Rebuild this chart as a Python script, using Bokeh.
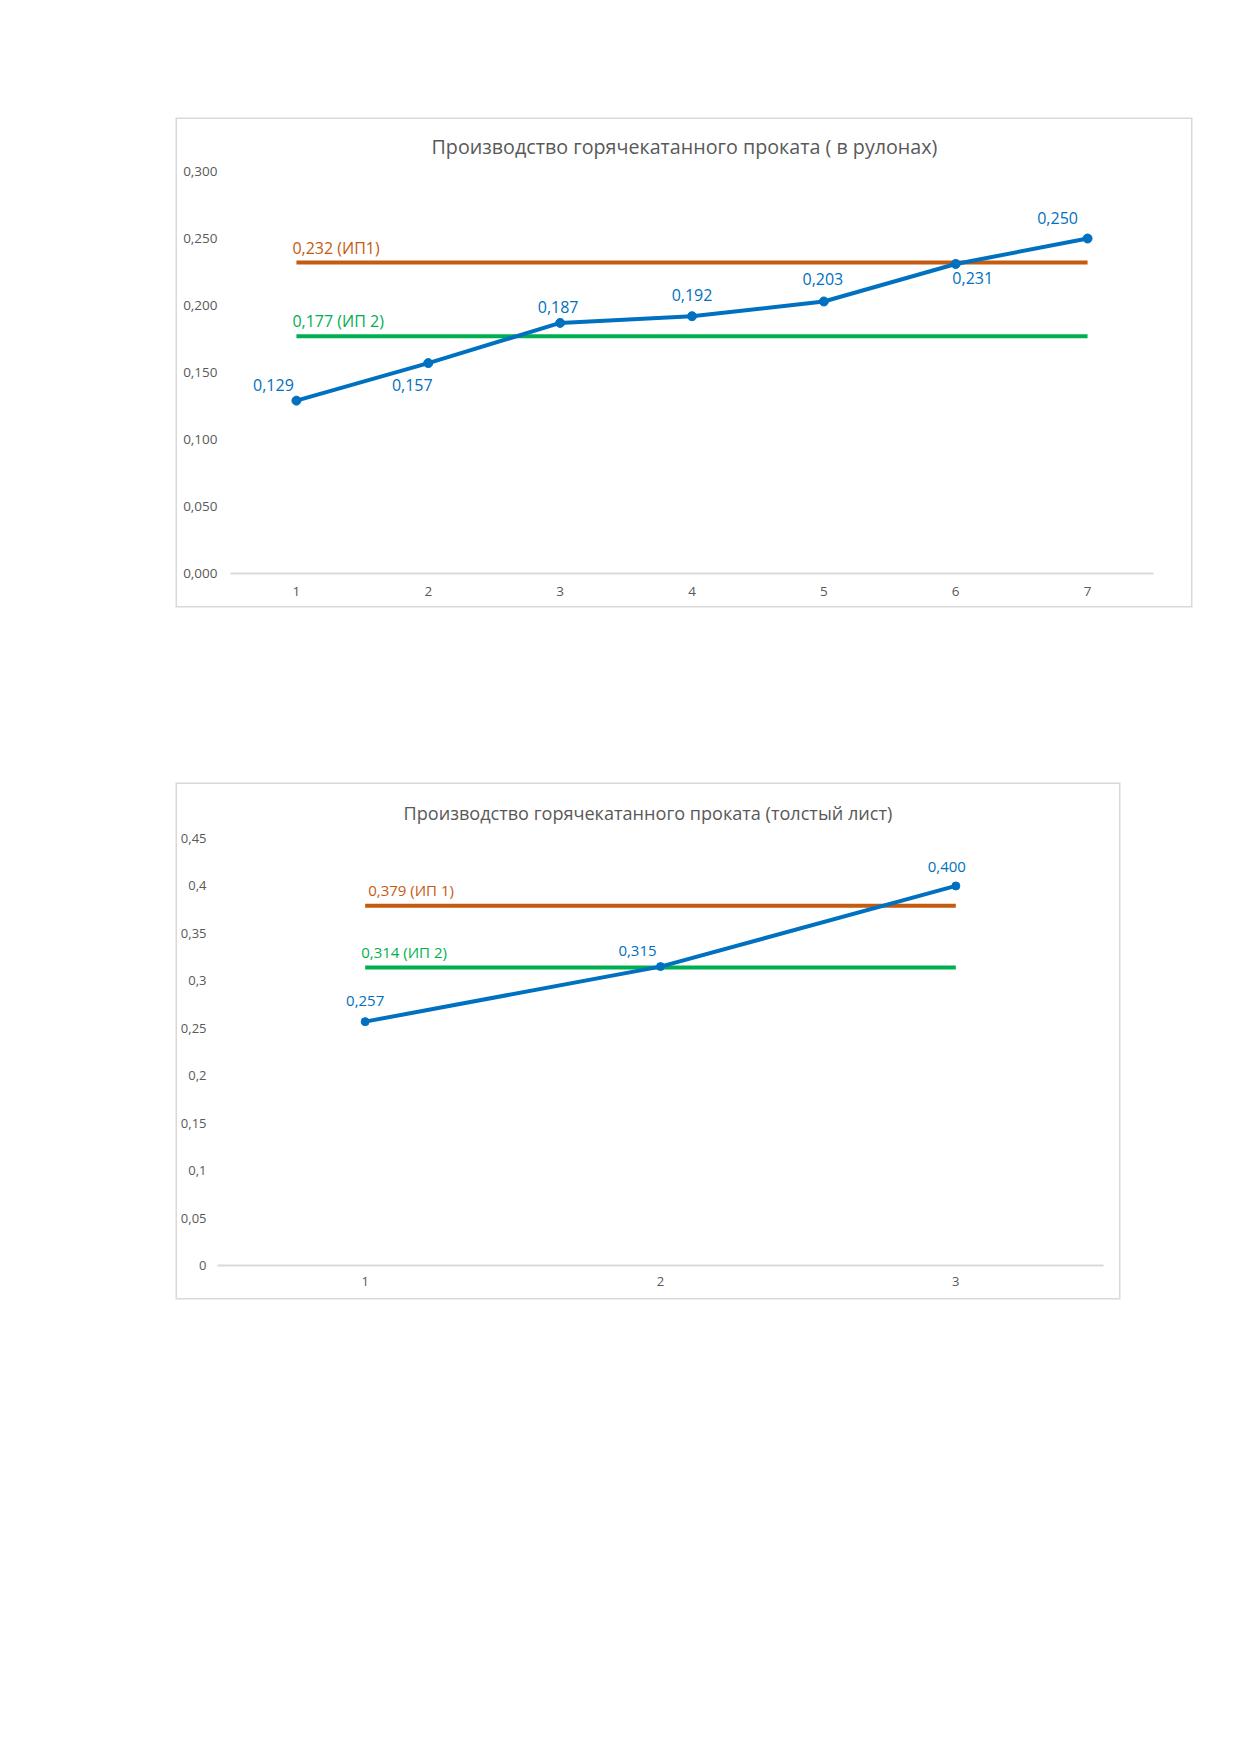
from bokeh.plotting import figure
from bokeh.models import FactorRange, Range1d, FixedTicker, ColumnDataSource, Spacer
from bokeh.layouts import column, row
from bokeh.embed import file_html
from bokeh.resources import INLINE
from bokeh.core.properties import value

# ---------------- data: chart 1 ----------------
c1_title = "Производство горячекатанного проката ( в рулонах)"
c1_categories = ["1", "2", "3", "4", "5", "6", "7"]
c1_values = [0.129, 0.157, 0.187, 0.192, 0.203, 0.231, 0.250]
c1_ip1 = 0.232
c1_ip2 = 0.177
c1_ip1_label = "0,232 (ИП1)"
c1_ip2_label = "0,177 (ИП 2)"
c1_yticks = [0.0, 0.05, 0.1, 0.15, 0.2, 0.25, 0.3]
c1_ytick_labels = ["0,000", "0,050", "0,100", "0,150", "0,200", "0,250", "0,300"]

# ---------------- data: chart 2 ----------------
c2_title = "Производство горячекатанного проката (толстый лист)"
c2_categories = ["1", "2", "3"]
c2_values = [0.257, 0.315, 0.400]
c2_ip1 = 0.379
c2_ip2 = 0.314
c2_ip1_label = "0,379 (ИП 1)"
c2_ip2_label = "0,314 (ИП 2)"
c2_yticks = [0.0, 0.05, 0.1, 0.15, 0.2, 0.25, 0.3, 0.35, 0.4, 0.45]
c2_ytick_labels = ["0", "0,05", "0,1", "0,15", "0,2", "0,25", "0,3", "0,35", "0,4", "0,45"]

# ---------------- styling ----------------
FONT = "Open Sans"
BLUE = "#0070C0"
ORANGE = "#C55A11"
GREEN = "#00B050"
GRAY_TXT = "#595959"
GRAY_LINE = "#D9D9D9"

# label placement offsets (pixels, screen; y down)
c1_lbl_dx = [-23, -16, -2, 0, -1, 17, -30]
c1_lbl_dy = [-16, 22, -16, -21, -22, 14, -21]
c2_lbl_dx = [0, -23, -9]
c2_lbl_dy = [-21, -16, -19]


def fmt3(v):
    return ("%.3f" % v).replace(".", ",")


def make_chart(title, cats, vals, ip1, ip2, ip1_lbl, ip2_lbl, yticks, ylabels,
               width, height, borders, ymax, title_size, title_offset, title_standoff,
               lbl_dx, lbl_dy, lbl_size, ip_dx, ip_dy, ytick_size, xstandoff, ystandoff,
               marker_size):
    left, right, top, bottom = borders
    p = figure(width=width, height=height,
               x_range=FactorRange(*cats), y_range=Range1d(0, ymax),
               output_backend="svg", toolbar_location=None,
               min_border_left=left, min_border_right=right,
               min_border_top=top, min_border_bottom=bottom)
    p.styles = {"box-shadow": "0 0 0 1.5px " + GRAY_LINE}
    p.background_fill_color = "white"
    p.border_fill_color = "white"
    p.outline_line_color = None
    p.xgrid.visible = False
    p.ygrid.visible = False

    p.title.text = title
    p.title.align = "left"
    p.title.text_font = FONT
    p.title.text_font_style = "normal"
    p.title.text_font_size = title_size
    p.title.text_color = GRAY_TXT
    p.title.offset = title_offset
    p.title.standoff = title_standoff

    for ax in (p.xaxis, p.yaxis):
        ax.major_tick_line_color = None
        ax.minor_tick_line_color = None
        ax.major_tick_out = 0
        ax.major_tick_in = 0
        ax.minor_tick_out = 0
        ax.minor_tick_in = 0
        ax.axis_label_standoff = 0
        ax.major_label_text_font = FONT
        ax.major_label_text_font_size = ytick_size
        ax.major_label_text_color = GRAY_TXT

    p.xaxis.axis_line_color = GRAY_LINE
    p.xaxis.axis_line_width = 2
    p.xaxis.major_label_standoff = xstandoff

    p.yaxis.ticker = FixedTicker(ticks=yticks)
    p.yaxis.major_label_overrides = {t: l for t, l in zip(yticks, ylabels)}
    p.yaxis.axis_line_color = None
    p.yaxis.major_label_standoff = ystandoff

    # reference lines
    for lvl, col in ((ip1, ORANGE), (ip2, GREEN)):
        p.line(x=[cats[0], cats[-1]], y=[lvl, lvl], line_color=col, line_width=4,
               line_cap="butt")

    # main series
    src = ColumnDataSource(dict(x=cats, y=vals, lbl=[fmt3(v) for v in vals],
                                dx=lbl_dx, dy=lbl_dy))
    p.line("x", "y", source=src, line_color=BLUE, line_width=4, line_join="round")
    p.scatter("x", "y", source=src, size=marker_size, fill_color=BLUE, line_color=BLUE)
    p.text("x", "y", text="lbl", source=src, x_offset="dx", y_offset="dy",
           text_font=value(FONT), text_font_size=lbl_size, text_color=BLUE,
           text_align="center", text_baseline="middle")

    # reference-line labels
    ipsrc = ColumnDataSource(dict(x=[cats[0], cats[0]], y=[ip1, ip2],
                                  t=[ip1_lbl, ip2_lbl], c=[ORANGE, GREEN],
                                  dx=ip_dx, dy=ip_dy))
    p.text("x", "y", text="t", source=ipsrc, x_offset="dx", y_offset="dy",
           text_font=value(FONT), text_font_size=lbl_size, text_color="c",
           text_align="left", text_baseline="middle")
    return p


p1 = make_chart(c1_title, c1_categories, c1_values, c1_ip1, c1_ip2, c1_ip1_label, c1_ip2_label,
                c1_yticks, c1_ytick_labels,
                width=1014, height=487, borders=(53, 38, 52, 33), ymax=0.3,
                title_size="19.7px", title_offset=201, title_standoff=22.5,
                lbl_dx=c1_lbl_dx, lbl_dy=c1_lbl_dy, lbl_size="16px",
                ip_dx=[-4, -4], ip_dy=[-15, -15], ytick_size="13.5px",
                xstandoff=13, ystandoff=13, marker_size=9)

p2 = make_chart(c2_title, c2_categories, c2_values, c2_ip1, c2_ip2, c2_ip1_label, c2_ip2_label,
                c2_yticks, c2_ytick_labels,
                width=942, height=514, borders=(39, 16, 54, 33), ymax=0.45,
                title_size="18.1px", title_offset=186, title_standoff=26.5,
                lbl_dx=c2_lbl_dx, lbl_dy=c2_lbl_dy, lbl_size="15px",
                ip_dx=[3, -4], ip_dy=[-16, -16], ytick_size="13px",
                xstandoff=11, ystandoff=11, marker_size=8)

layout = column(
    Spacer(height=119),
    row(Spacer(width=177), p1),
    Spacer(height=178),
    row(Spacer(width=177), p2),
)

open("out.html", "w").write(file_html(layout, INLINE))
